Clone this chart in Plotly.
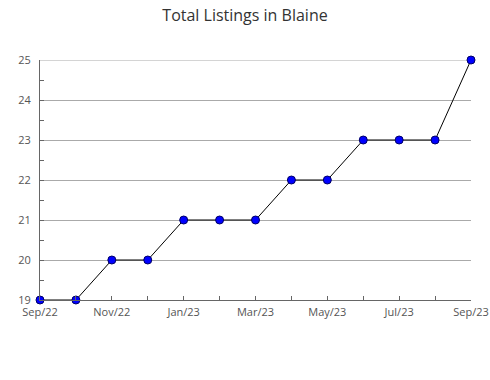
import plotly.graph_objects as go

months = ["Sep/22", "Oct/22", "Nov/22", "Dec/22", "Jan/23", "Feb/23", "Mar/23",
          "Apr/23", "May/23", "Jun/23", "Jul/23", "Aug/23", "Sep/23"]
listings = [19, 19, 20, 20, 21, 21, 21, 22, 22, 23, 23, 23, 25]
y_ticks = [19, 20, 21, 22, 23, 24, 25]

x_idx = list(range(len(months)))
tick_text = [m if i % 2 == 0 else "" for i, m in enumerate(months)]

fig = go.Figure()
fig.add_trace(go.Scatter(
    x=x_idx, y=listings, mode="lines+markers",
    line=dict(color="black", width=1),
    marker=dict(symbol="circle", size=8, color="#0000ff",
                line=dict(color="#000066", width=1)),
    cliponaxis=False, hoverinfo="skip", showlegend=False,
))

# top gridline (plotly omits the gridline at the range edge)
fig.add_shape(type="line", xref="paper", x0=0, x1=1, yref="y",
              y0=max(y_ticks), y1=max(y_ticks),
              line=dict(color="#aaa", width=1), layer="below")

fig.update_layout(
    width=490, height=380,
    margin=dict(l=40, r=19, t=60, b=80, autoexpand=False),
    paper_bgcolor="white", plot_bgcolor="white",
    font=dict(family="Open Sans, sans-serif", size=11, color="#555"),
    title=dict(text="Total Listings in Blaine", x=0.5, xanchor="center",
               y=0.96, yanchor="middle",
               font=dict(size=16, color="#333")),
    xaxis=dict(range=[0, 12], tickvals=x_idx, ticktext=tick_text,
               ticks="inside", ticklen=4, tickcolor="#666",
               ticklabelstandoff=2,
               showline=True, linecolor="#666", linewidth=1,
               showgrid=False, zeroline=False, fixedrange=True,
               automargin=False),
    yaxis=dict(range=[19, 25], tickvals=y_ticks,
               ticks="inside", ticklen=4, tickcolor="#666",
               ticklabelstandoff=6,
               showline=True, linecolor="#666", linewidth=1,
               showgrid=True, gridcolor="#aaa", gridwidth=1,
               zeroline=False, fixedrange=True, automargin=False,
               minor=dict(dtick=0.5, tick0=19, ticks="inside", ticklen=4,
                          tickcolor="#666", showgrid=False)),
)

fig.write_html("out.html")
